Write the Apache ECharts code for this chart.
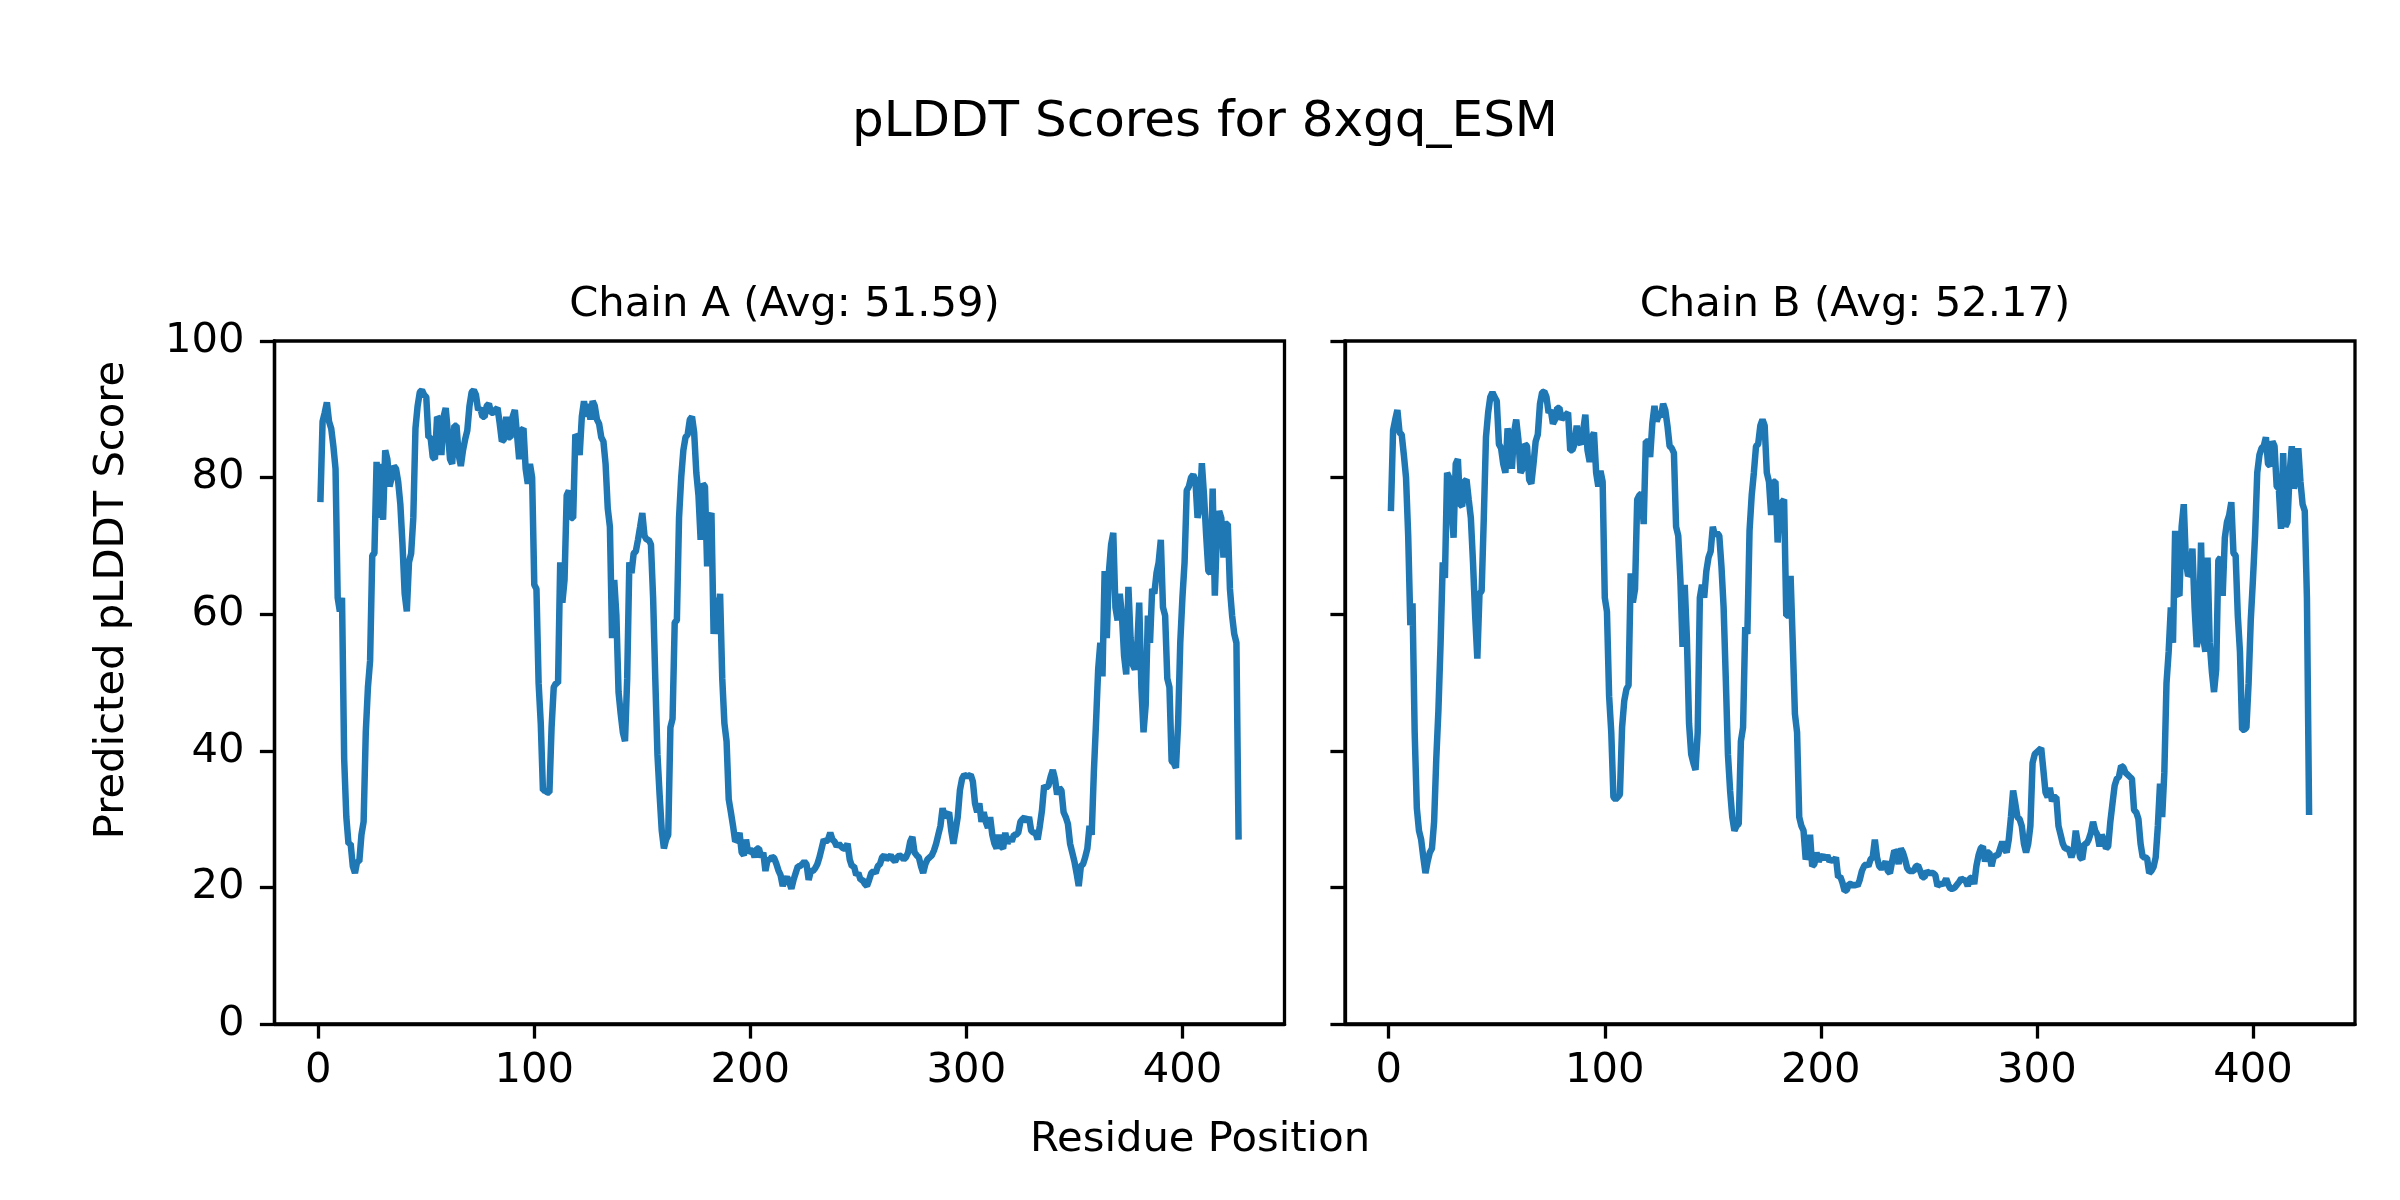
<!DOCTYPE html>
<html><head><meta charset="utf-8">
<script src="https://cdn.jsdelivr.net/npm/echarts@6/dist/echarts.min.js"></script>
<style>html,body{margin:0;padding:0;background:#fff}#c{width:2400px;height:1200px}</style>
</head><body><div id="c"></div>
<script>
const chainA = [
76.4,88.2,89.5,91.0,88.2,87.2,84.6,81.3,62.4,60.4,
62.4,38.8,30.3,26.4,26.4,23.1,22.1,23.8,23.8,27.7,
29.6,42.7,49.3,53.2,68.6,68.9,82.3,74.1,82.0,73.8,
84.0,82.7,78.7,80.0,81.7,81.3,79.4,76.1,70.2,63.0,
60.4,67.6,68.9,74.1,87.2,90.5,92.5,92.8,92.1,91.8,
85.9,85.9,83.0,82.7,88.9,88.5,83.3,88.9,90.2,86.6,
82.7,82.0,87.6,87.6,83.3,81.7,84.0,85.6,86.9,90.5,
92.5,92.8,92.1,89.9,90.2,88.9,88.9,90.5,90.8,89.5,
89.5,89.9,90.2,87.9,85.3,85.6,88.9,85.9,85.9,88.9,
89.9,86.3,82.7,86.9,87.2,81.3,79.1,82.0,80.0,64.3,
63.7,49.9,44.0,34.2,34.2,33.9,33.9,43.4,49.3,49.9,
49.9,67.6,61.7,65.0,77.4,78.1,74.1,74.1,86.3,85.9,
83.3,88.9,91.2,88.9,90.8,88.5,91.2,90.5,88.5,87.9,
85.9,85.3,82.0,75.5,72.8,56.5,65.0,59.8,48.6,45.4,
42.7,41.4,50.6,67.6,66.0,68.9,69.2,70.9,72.8,74.8,
71.5,70.9,70.9,70.2,62.4,50.6,39.5,33.6,28.3,25.7,
27.0,27.7,43.4,44.7,58.8,59.1,74.1,80.0,84.0,85.9,
86.3,88.5,88.9,86.6,80.7,77.4,70.9,79.1,78.7,67.0,
74.1,74.8,57.1,62.4,57.1,63.0,50.6,44.0,41.4,32.9,
31.0,29.0,26.7,27.0,28.0,25.1,24.7,27.0,25.1,25.4,
25.4,24.4,25.7,25.7,24.4,25.1,22.4,24.1,24.0,24.5,
24.3,23.5,22.5,21.8,20.2,21.1,21.5,20.8,19.8,21.1,
22.1,23.1,23.1,23.4,23.8,23.4,21.1,22.4,22.4,22.8,
23.4,24.4,25.7,27.0,26.7,27.0,28.0,27.0,26.7,26.0,
26.4,26.0,25.7,25.7,26.4,24.1,23.1,23.1,21.8,22.1,
21.1,21.1,20.5,20.2,21.1,22.1,22.4,22.1,23.1,23.4,
24.4,24.7,24.1,24.4,24.7,24.1,23.8,24.4,24.7,24.5,
24.1,24.4,25.1,26.7,27.4,25.1,24.7,24.4,23.1,22.1,
23.4,24.1,24.4,24.7,25.4,26.4,27.7,29.0,31.6,30.3,
30.6,31.0,28.3,26.4,28.3,30.3,34.2,35.9,36.5,36.3,
36.3,36.5,35.5,32.3,31.0,32.3,29.6,31.0,29.6,28.7,
30.3,27.7,26.4,25.7,27.7,26.0,25.7,28.0,26.4,27.4,
26.7,27.7,27.7,28.0,29.6,30.0,30.3,29.6,30.3,28.3,
28.0,28.0,27.0,29.0,31.3,34.9,34.6,34.9,36.2,37.2,
35.9,33.6,34.6,34.2,31.0,30.3,29.3,26.4,25.1,23.8,
22.1,20.2,23.1,23.4,24.4,25.7,29.0,27.7,36.8,44.0,
51.9,55.8,50.9,66.3,56.5,66.3,70.2,71.9,61.0,59.1,
63.0,59.8,53.9,51.2,64.0,56.5,52.6,51.9,54.5,61.7,
49.3,42.7,46.7,59.8,55.8,63.7,63.0,66.0,67.6,70.9,
61.0,59.8,50.6,49.3,38.5,38.2,37.5,44.0,55.8,62.4,
67.6,78.1,78.7,80.0,80.4,79.7,74.1,75.5,82.1,77.4,
71.5,66.3,66.0,78.4,62.7,72.2,75.1,74.1,68.3,73.2,
73.2,63.7,59.8,57.1,55.8,27.0
];
const chainB = [
75.1,86.9,88.5,89.9,86.6,86.3,83.3,80.0,71.5,58.4,
61.6,42.7,31.6,28.3,27.0,24.4,22.1,23.8,25.1,25.7,
29.6,38.8,46.0,55.8,67.6,65.3,80.7,80.0,75.5,71.2,
82.0,82.7,76.1,75.8,79.4,79.7,76.8,74.1,67.6,59.8,
53.5,63.0,63.4,74.1,85.9,89.5,91.8,92.5,91.8,91.2,
84.9,84.3,82.0,80.7,87.2,85.9,81.3,86.6,88.5,85.6,
80.7,81.3,84.9,84.6,79.7,79.1,82.0,85.3,86.3,90.8,
92.5,92.6,91.8,89.5,89.9,87.9,88.5,90.2,90.2,88.5,
88.9,89.2,89.5,84.0,84.0,84.9,87.6,85.3,84.9,86.9,
89.2,84.0,82.3,85.9,86.6,80.7,78.7,81.0,79.4,62.4,
60.4,48.0,42.7,33.2,32.9,33.2,33.6,43.4,47.3,49.0,
49.6,66.0,61.7,63.7,76.8,77.4,77.7,73.2,85.3,85.3,
83.0,87.9,90.5,88.2,89.2,88.9,90.8,89.9,87.6,84.6,
84.3,83.6,72.8,71.5,65.0,55.2,64.3,56.5,44.0,39.5,
38.2,37.2,42.7,62.4,64.3,62.4,66.3,68.3,69.2,72.8,
71.5,71.9,71.5,67.0,61.0,50.6,39.5,34.2,30.3,28.3,
29.0,29.3,41.4,43.4,58.1,57.1,72.2,77.4,80.7,84.6,
84.9,87.6,88.5,87.6,80.7,79.4,74.5,79.4,79.4,70.5,
76.1,76.4,76.8,59.8,59.8,65.6,55.8,45.4,42.7,30.3,
29.0,28.3,24.1,25.1,27.7,23.1,23.4,25.1,23.8,24.4,
24.7,24.1,24.7,23.8,24.1,23.8,24.4,21.5,21.6,20.7,
19.5,19.6,20.5,20.5,20.2,20.5,20.2,21.1,22.4,23.1,
23.4,23.1,24.1,24.4,27.0,24.4,23.1,22.8,23.1,23.8,
22.4,22.1,23.8,25.4,25.1,23.4,25.7,25.1,24.1,22.8,
22.4,22.4,22.4,23.1,23.2,22.4,21.5,21.5,22.4,22.1,
22.1,22.1,21.8,20.2,20.5,20.5,20.6,21.3,20.4,19.8,
19.8,20.0,20.4,20.8,21.3,21.1,21.0,20.2,21.3,21.5,
20.5,23.1,24.7,25.7,26.0,23.8,25.1,25.1,23.1,24.4,
24.7,24.7,25.7,26.7,25.7,25.1,27.0,30.3,34.2,32.3,
30.3,30.0,29.0,26.4,25.1,26.4,29.0,38.2,39.5,39.8,
40.1,40.4,37.2,33.9,33.2,34.6,32.6,33.2,33.2,29.0,
27.7,26.4,25.7,25.7,25.4,24.4,25.4,28.3,26.4,24.4,
24.1,26.4,26.4,27.0,28.0,29.6,28.3,27.7,26.0,27.7,
27.0,25.7,26.0,29.6,32.3,34.9,35.9,36.2,37.8,37.6,
36.8,36.5,36.2,35.9,31.3,31.0,30.0,26.4,24.4,24.4,
24.3,22.1,22.4,23.0,24.4,29.0,35.2,30.3,36.8,49.9,
54.5,61.0,55.8,72.2,63.0,62.7,72.8,76.1,67.6,65.6,
66.0,69.6,61.0,55.2,57.1,70.5,56.5,54.5,68.3,55.8,
51.6,48.6,51.9,67.9,68.3,62.7,71.2,73.5,74.5,76.4,
68.9,68.6,59.8,54.5,43.1,43.1,43.4,49.9,59.1,65.0,
71.5,80.7,83.3,84.3,84.6,85.9,82.0,81.7,85.3,84.6,
78.7,78.4,72.5,83.6,72.8,73.5,80.7,84.6,78.4,80.0,
84.3,79.4,76.1,75.1,62.4,30.6
];
const residues = chainA.map((_, i) => i + 1);
const xTickValues = [0, 100, 200, 300, 400];
const yTickValues = [0, 20, 40, 60, 80, 100];
const mainTitle = 'pLDDT Scores for 8xgq_ESM';
const panelTitles = ['Chain A (Avg: 51.59)', 'Chain B (Avg: 52.17)'];
const xLabel = 'Residue Position';
const yLabel = 'Predicted pLDDT Score';

const FONT = 'DejaVu Sans';
const BLUE = '#1f77b4';
const gridLeft = [274.5, 1345];
const gridW = 1010, gridTop = 341, gridH = 683;

const chart = echarts.init(document.getElementById('c'), null, {renderer: 'canvas'});
const grids = gridLeft.map(l => ({left: l, top: gridTop, width: gridW, height: gridH,
  show: true, borderColor: '#000', borderWidth: 3.3, backgroundColor: 'transparent', containLabel: false}));
const xAxes = gridLeft.map((l, i) => ({
  type: 'value', gridIndex: i, min: -20.25, max: 447.25, position: 'bottom',
  axisLine: {show: true, onZero: false, lineStyle: {color: '#000', width: 3.3}}, splitLine: {show: false},
  axisTick: {show: true, inside: false, customValues: xTickValues, length: 14.6, lineStyle: {color: '#000', width: 3.3}},
  axisLabel: {show: true, customValues: xTickValues, margin: 26, fontSize: 41.7, fontFamily: FONT, color: '#000'}
}));
const yAxes = gridLeft.map((l, i) => ({
  type: 'value', gridIndex: i, min: 0, max: 100, interval: 20, position: 'left',
  axisLine: {show: true, onZero: false, lineStyle: {color: '#000', width: 3.3}}, splitLine: {show: false},
  axisTick: {show: true, inside: false, length: 14.6, lineStyle: {color: '#000', width: 3.3}},
  axisLabel: {show: i === 0, margin: 30, fontSize: 41.7, fontFamily: FONT, color: '#000'}
}));
const seriesData = [chainA, chainB];
chart.setOption({
  animation: false,
  backgroundColor: '#fff',
  title: [
    {text: mainTitle, left: 1200, textAlign: 'center', top: 93,
     textStyle: {fontSize: 50, fontWeight: 'normal', fontFamily: FONT, color: '#000'}},
    {text: panelTitles[0], left: gridLeft[0] + gridW / 2, textAlign: 'center', top: 279,
     textStyle: {fontSize: 41.7, fontWeight: 'normal', fontFamily: FONT, color: '#000'}},
    {text: panelTitles[1], left: gridLeft[1] + gridW / 2, textAlign: 'center', top: 279,
     textStyle: {fontSize: 41.7, fontWeight: 'normal', fontFamily: FONT, color: '#000'}}
  ],
  grid: grids,
  xAxis: xAxes,
  yAxis: yAxes,
  graphic: [
    {type: 'text', x: 1200, y: 1140, style: {text: xLabel, fontSize: 41.7, fontFamily: FONT, fill: '#000', textAlign: 'center', textVerticalAlign: 'middle'}},
    {type: 'text', x: 112, y: 600, rotation: Math.PI / 2, style: {text: yLabel, fontSize: 41.7, fontFamily: FONT, fill: '#000', textAlign: 'center', textVerticalAlign: 'middle'}}
  ],
  series: seriesData.map((d, i) => ({
    type: 'line', xAxisIndex: i, yAxisIndex: i, showSymbol: false, symbol: 'none',
    data: d.map((v, j) => [residues[j], v]),
    lineStyle: {color: BLUE, width: 6.5}, clip: true, z: 3
  }))
});
</script></body></html>
